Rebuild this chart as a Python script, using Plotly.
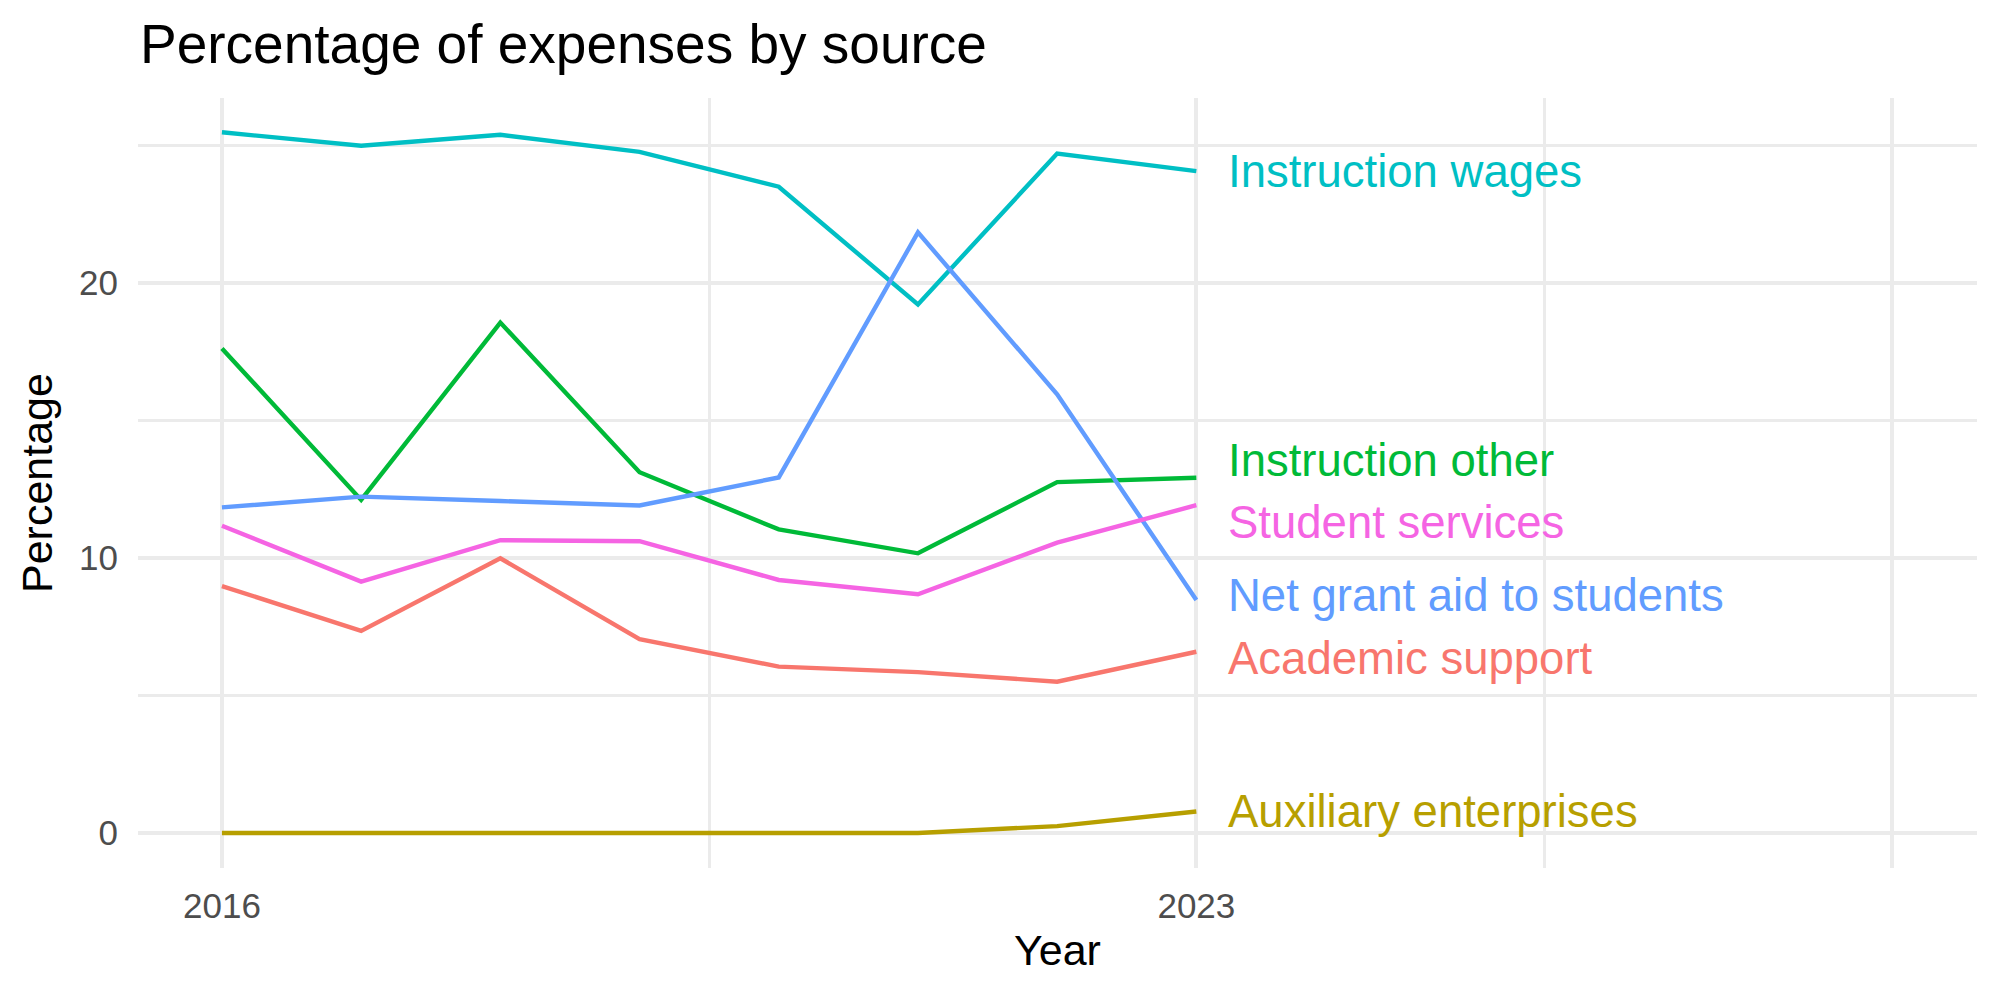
import plotly.graph_objects as go

years = [2016, 2017, 2018, 2019, 2020, 2021, 2022, 2023]

series_names = [
    "Academic support",
    "Auxiliary enterprises",
    "Instruction other",
    "Instruction wages",
    "Net grant aid to students",
    "Student services",
]

academic_support = [8.98, 7.35, 9.99, 7.05, 6.05, 5.85, 5.50, 6.59]
auxiliary_enterprises = [0.0, 0.0, 0.0, 0.0, 0.0, 0.0, 0.25, 0.78]
instruction_other = [17.62, 12.11, 18.56, 13.12, 11.04, 10.17, 12.76, 12.92]
instruction_wages = [25.48, 24.99, 25.39, 24.77, 23.50, 19.22, 24.71, 24.07]
net_grant_aid = [11.84, 12.23, 12.07, 11.91, 12.93, 21.84, 15.95, 8.47]
student_services = [11.17, 9.14, 10.65, 10.61, 9.20, 8.68, 10.56, 11.92]

series_values = [
    academic_support,
    auxiliary_enterprises,
    instruction_other,
    instruction_wages,
    net_grant_aid,
    student_services,
]

colors = ["#F8766D", "#B79F00", "#00BA38", "#00BFC4", "#619CFF", "#F564E3"]

# repelled label offsets (in data units) relative to each series' last value
label_nudge = [-0.23, 0.0, 0.61, -0.03, 0.18, -0.63]

x_tick_vals = [2016, 2023, 2028]
x_tick_text = ["2016", "2023", ""]
x_minor_vals = [2019.5, 2025.5]
y_tick_vals = [0, 10, 20]
y_minor_vals = [5, 15, 25]

FONT = "Liberation Sans"
GRID = "#EBEBEB"

fig = go.Figure()
for name, vals, col in zip(series_names, series_values, colors):
    fig.add_trace(go.Scatter(
        x=years, y=vals, mode="lines", name=name,
        line=dict(color=col, width=4.4), showlegend=False,
    ))

for name, vals, col, nd in zip(series_names, series_values, colors, label_nudge):
    fig.add_annotation(
        x=years[-1] + 0.21, y=vals[-1] + nd, xref="x", yref="y",
        text=name, showarrow=False, xanchor="left", yanchor="middle",
        font=dict(family=FONT, size=45.5, color=col),
    )

# axis titles
fig.add_annotation(
    x=0.5, y=-0.107, xref="paper", yref="paper", text="Year",
    showarrow=False, xanchor="center", yanchor="middle",
    font=dict(family=FONT, size=43, color="black"),
)
fig.add_annotation(
    x=(37 - 138) / 1839, y=0.5, xref="paper", yref="paper", text="Percentage",
    showarrow=False, xanchor="center", yanchor="middle", textangle=-90,
    font=dict(family=FONT, size=43, color="black"),
)

fig.update_layout(
    width=2000, height=1000,
    margin=dict(l=138, r=23, t=98, b=132),
    paper_bgcolor="white", plot_bgcolor="white",
    title=dict(
        text="Percentage of expenses by source",
        x=2 / 1839, xref="paper", xanchor="left",
        y=0.956, yref="container", yanchor="middle",
        font=dict(family=FONT, size=55, color="black"),
    ),
    xaxis=dict(
        range=[2015.397, 2028.608],
        tickmode="array", tickvals=x_tick_vals, ticktext=x_tick_text,
        showgrid=True, gridcolor=GRID, gridwidth=4,
        zeroline=False, showline=False,
        ticks="", ticklabelstandoff=14,
        tickfont=dict(family=FONT, size=35, color="#4D4D4D"),
        minor=dict(tickmode="array", tickvals=x_minor_vals,
                   showgrid=True, gridcolor=GRID, gridwidth=2.5, ticks=""),
    ),
    yaxis=dict(
        range=[-1.273, 26.727],
        tickmode="array", tickvals=y_tick_vals,
        showgrid=True, gridcolor=GRID, gridwidth=4,
        zeroline=False, showline=False,
        ticks="", ticklabelstandoff=19,
        tickfont=dict(family=FONT, size=35, color="#4D4D4D"),
        minor=dict(tickmode="array", tickvals=y_minor_vals,
                   showgrid=True, gridcolor=GRID, gridwidth=2.5, ticks=""),
    ),
)

fig.write_html("out.html")
